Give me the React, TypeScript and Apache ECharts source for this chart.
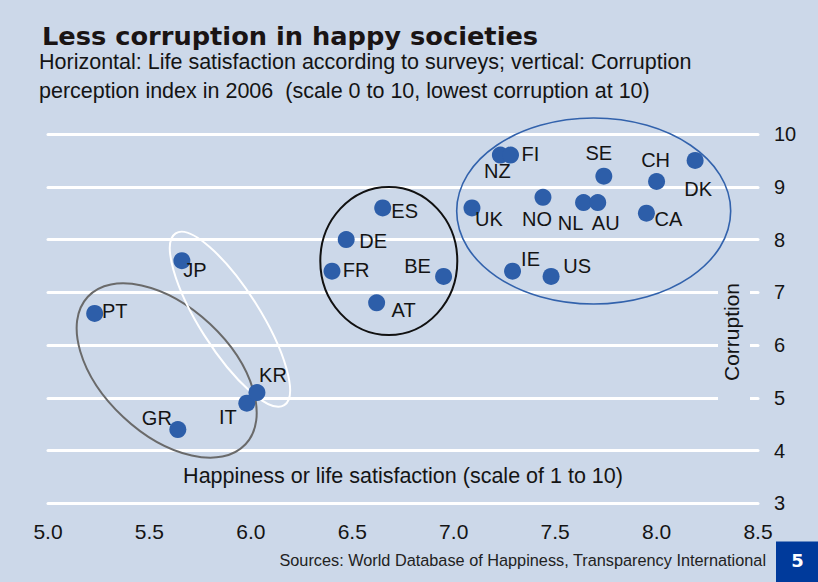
import React, { useEffect, useRef } from "react";
import * as echarts from "echarts";

// ---- data ----
const countries = ["PT", "JP", "GR", "IT", "KR", "ES", "DE", "FR", "BE", "AT", "NZ", "FI", "SE", "CH", "DK", "UK", "NO", "NL", "AU", "CA", "IE", "US"];
const happiness = [5.23, 5.66, 5.64, 5.98, 6.03, 6.65, 6.47, 6.4, 6.95, 6.62, 7.23, 7.28, 7.74, 8.0, 8.19, 7.09, 7.44, 7.64, 7.71, 7.95, 7.29, 7.48];
const corruption = [6.6, 7.6, 4.4, 4.9, 5.1, 8.6, 8.0, 7.4, 7.3, 6.8, 9.6, 9.6, 9.2, 9.1, 9.5, 8.6, 8.8, 8.7, 8.7, 8.5, 7.4, 7.3];
const xTicks = [5.0, 5.5, 6.0, 6.5, 7.0, 7.5, 8.0, 8.5];
const yTicks = [3, 4, 5, 6, 7, 8, 9, 10];
// group-ellipse centres (data units)
const groupNames = ["Nordic & Anglo", "Continental", "South", "East Asia"];
const groupCentreX = [7.69, 6.68, 5.585, 5.897];
const groupCentreY = [8.54, 7.593, 5.518, 6.49];

const TITLE = "Less corruption in happy societies";
const SUB1 = "Horizontal: Life satisfaction according to surveys; vertical: Corruption";
const SUB2 = "perception index in 2006  (scale 0 to 10, lowest corruption at 10)";
const X_NAME = "Happiness or life satisfaction (scale of 1 to 10)";
const Y_NAME = "Corruption";
const SOURCE = "Sources: World Database of Happiness, Transparency International";
const PAGE = "5";

// ---- styles ----
const BG = "#ccd8e9";
const DOT = "#2d5ea9";
const FONT = "'Liberation Sans', Arial, Helvetica, sans-serif";
const TXT = "#141414";

// label offsets (label centre relative to dot centre, px)
const labelOffsets: Record<string, [number, number]> = {
  PT: [20, -2], JP: [13, 9], GR: [-21, -12], IT: [-19, 14], KR: [16, -18],
  ES: [22, 3], DE: [27, 1], FR: [24, -1], BE: [-26, -10], AT: [27, 7],
  NZ: [-3, 16], FI: [20, -1], SE: [-5, -23], CH: [-1, -21], DK: [3, 29],
  UK: [17, 11], NO: [-6, 22], NL: [-13, 20], AU: [8, 20], CA: [22, 6],
  IE: [18, -12], US: [26, -10],
};

const ellipseStyles = [
  { rx: 137, ry: 93, rot: 0, stroke: "#3262ac", lw: 1.6 },
  { rx: 68.5, ry: 74, rot: 0, stroke: "#111111", lw: 2 },
  { rx: 108, ry: 63.6, rot: (-43.1 * Math.PI) / 180, stroke: "#6a6a6a", lw: 2 },
  { rx: 101.7, ry: 30.3, rot: (-57.7 * Math.PI) / 180, stroke: "#ffffff", lw: 2 },
];

export default function App() {
  const ref = useRef<HTMLDivElement>(null);

  useEffect(() => {
    if (!ref.current) return;
    const chart = echarts.init(ref.current, undefined, { renderer: "svg" });

    const scatterData = countries.map((c, i) => {
      const off = labelOffsets[c] || [0, 0];
      return {
        name: c,
        value: [happiness[i], corruption[i]],
        label: { offset: off },
      };
    });

    const ellipseData = groupNames.map((n, i) => ({ name: n, value: [groupCentreX[i], groupCentreY[i]] }));

    const option: any = {
      animation: false,
      backgroundColor: BG,
      textStyle: { fontFamily: FONT },
      grid: { left: 48, right: 60, top: 134, bottom: 78.6, containLabel: false },
      xAxis: {
        type: "value",
        min: xTicks[0],
        max: xTicks[xTicks.length - 1],
        interval: 0.5,
        axisLine: { show: false },
        axisTick: { show: false },
        splitLine: { show: false },
        axisLabel: {
          formatter: (v: number) => v.toFixed(1),
          fontSize: 21,
          color: TXT,
          margin: 18,
          fontFamily: FONT,
          showMinLabel: true,
          showMaxLabel: true,
        },
        name: X_NAME,
        nameLocation: "middle",
        nameGap: -38,
        nameTextStyle: { fontSize: 21.5, color: TXT, fontFamily: FONT },
      },
      yAxis: {
        type: "value",
        position: "right",
        min: yTicks[0],
        max: yTicks[yTicks.length - 1],
        interval: 1,
        axisLine: { show: false },
        axisTick: { show: false },
        splitLine: { show: true, lineStyle: { color: "#ffffff", width: 3, cap: "round" } },
        axisLabel: { fontSize: 20, color: TXT, margin: 16, align: "left", fontFamily: FONT },
      },
      graphic: [
        {
          type: "text",
          x: 42,
          y: 37,
          scaleX: 1.07,
          z: 20,
          style: {
            text: TITLE,
            font: "bold 24px 'DejaVu Sans', sans-serif",
            fill: "#1a1414",
            textAlign: "left",
            textVerticalAlign: "middle",
          },
        },
        {
          type: "text",
          x: 39,
          y: 62,
          z: 20,
          style: { text: SUB1, font: `21.5px ${FONT}`, fill: TXT, textAlign: "left", textVerticalAlign: "middle" },
        },
        {
          type: "text",
          x: 39,
          y: 91,
          z: 20,
          style: { text: SUB2, font: `21.5px ${FONT}`, fill: TXT, textAlign: "left", textVerticalAlign: "middle" },
        },
        {
          type: "rect",
          z: 10,
          shape: { x: 718, y: 281, width: 32, height: 123 },
          style: { fill: BG },
        },
        {
          type: "text",
          x: 731,
          y: 332,
          rotation: Math.PI / 2,
          z: 11,
          style: { text: Y_NAME, font: `21px ${FONT}`, fill: TXT, textAlign: "center", textVerticalAlign: "middle" },
        },
        {
          type: "text",
          x: 766,
          y: 560,
          z: 20,
          style: { text: SOURCE, font: `16.3px ${FONT}`, fill: "#222222", textAlign: "right", textVerticalAlign: "middle" },
        },
        {
          type: "rect",
          z: 20,
          shape: { x: 776, y: 541.5, width: 42, height: 41 },
          style: { fill: "#003a9b" },
        },
        {
          type: "text",
          x: 797.5,
          y: 560,
          z: 21,
          style: { text: PAGE, font: "bold 18px 'DejaVu Sans', sans-serif", fill: "#ffffff", textAlign: "center", textVerticalAlign: "middle" },
        },
      ],
      series: [
        {
          type: "custom",
          coordinateSystem: "cartesian2d",
          silent: true,
          z: 1,
          data: ellipseData,
          renderItem: (params: any, api: any) => {
            const c = api.coord([api.value(0), api.value(1)]);
            const s = ellipseStyles[params.dataIndex];
            return {
              type: "ellipse",
              x: c[0],
              y: c[1],
              rotation: s.rot,
              shape: { cx: 0, cy: 0, rx: s.rx, ry: s.ry },
              style: { fill: "none", stroke: s.stroke, lineWidth: s.lw },
            };
          },
        },
        {
          type: "scatter",
          z: 3,
          symbol: "circle",
          symbolSize: 17,
          itemStyle: { color: DOT, opacity: 1 },
          label: {
            show: true,
            formatter: "{b}",
            position: "inside",
            align: "center",
            verticalAlign: "middle",
            fontSize: 20,
            color: TXT,
            fontFamily: FONT,
          },
          emphasis: { disabled: true },
          data: scatterData,
        },
      ],
    };

    chart.setOption(option);
    return () => chart.dispose();
  }, []);

  return <div ref={ref} style={{ position: "absolute", left: 0, top: 0, width: 818, height: 582 }} />;
}
